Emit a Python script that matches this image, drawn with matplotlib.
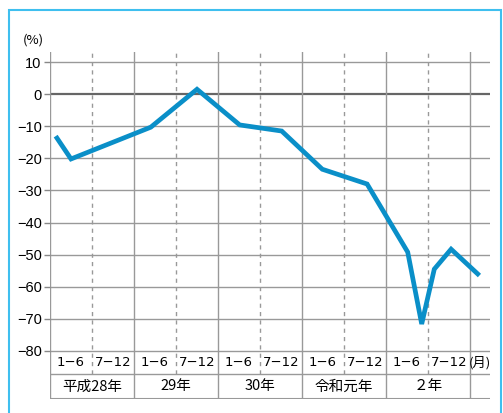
import matplotlib.pyplot as plt
from matplotlib.patches import Rectangle

plt.rcParams['font.family'] = ['Noto Sans CJK JP', 'DejaVu Sans']

# データ (横軸: 平成28年1月からの月数)
months = [1.0, 3.0, 14.4, 21.0, 27.1, 33.1, 38.9, 45.3, 51.1, 53.1, 54.9, 57.3, 61.1]
values = [-13.7, -20.2, -10.3, 1.5, -9.6, -11.5, -23.4, -28.0, -49.2, -71.6, -54.5, -48.3, -56.0]

yticks = [10, 0, -10, -20, -30, -40, -50, -60, -70, -80]
half_labels = ["1−6", "7−12"] * 5
year_labels = ["平成28年", "29年", "30年", "令和元年", "２年"]

W, H = 503, 413
fig = plt.figure(figsize=(W / 100, H / 100), dpi=100)
# 外枠
fig.patches.append(Rectangle((9 / W, -0.01), 492 / W, 1 - 10 / H + 0.01,
                             transform=fig.transFigure, fill=False,
                             edgecolor="#3fbfef", linewidth=1.5))

ax = fig.add_axes([50 / W, 1 - 399 / H, 440 / W, (399 - 52) / H])
xmax = 440 / 7.0
ymin = -80 - (399 - 351) / 3.21
ymax = 10 + (62 - 52) / 3.21
row_y = -80 - (374 - 351) / 3.21
ax.set_xlim(0, xmax)
ax.set_ylim(ymin, ymax)
for s in ax.spines.values():
    s.set_visible(False)
ax.set_xticks([])
ax.set_yticks(yticks)
ax.set_yticklabels([str(v).replace("-", "−") for v in yticks], fontsize=10.5,
                   family=['Liberation Sans', 'DejaVu Sans'])
ax.tick_params(axis="y", length=4, width=1, color="#888888", pad=2)

grid_c = "#999999"
# 横線
for v in yticks:
    if v == 0:
        ax.plot([0, xmax], [v, v], color="#666666", lw=1.6, zorder=1)
    else:
        ax.plot([0, xmax], [v, v], color=grid_c, lw=1.0, zorder=1)
ax.plot([0, xmax], [row_y, row_y], color=grid_c, lw=1.0, zorder=1)
ax.plot([0, xmax], [ymin, ymin], color=grid_c, lw=1.5, zorder=1)

# 縦線
for k in range(6):
    ax.plot([k * 12, k * 12], [ymin, ymax], color=grid_c, lw=1.0, zorder=1)
for k in range(5):
    x = k * 12 + 6
    ax.plot([x, x], [row_y, ymax], color=grid_c, lw=1.0, ls=(0, (3, 3)), zorder=1)

# ラベル
for i, lab in enumerate(half_labels):
    ax.text(i * 6 + 3, (-80 + row_y) / 2, lab, ha="center", va="center", fontsize=9.5,
            family=['Liberation Sans Narrow', 'DejaVu Sans'])
for i, lab in enumerate(year_labels):
    ax.text(i * 12 + 6, (row_y + ymin) / 2, lab, ha="center", va="center", fontsize=10.5)
ax.text((60 + xmax) / 2, (-80 + row_y) / 2, "(月)", ha="center", va="center", fontsize=9.5)
fig.text(33 / W, 1 - 40 / H, "(%)", ha="center", va="center", fontsize=9.5)

ax.plot(months, values, color="#0a8fc8", lw=3.4, zorder=3, solid_joinstyle="miter")

fig.savefig("out.png", dpi=100)
